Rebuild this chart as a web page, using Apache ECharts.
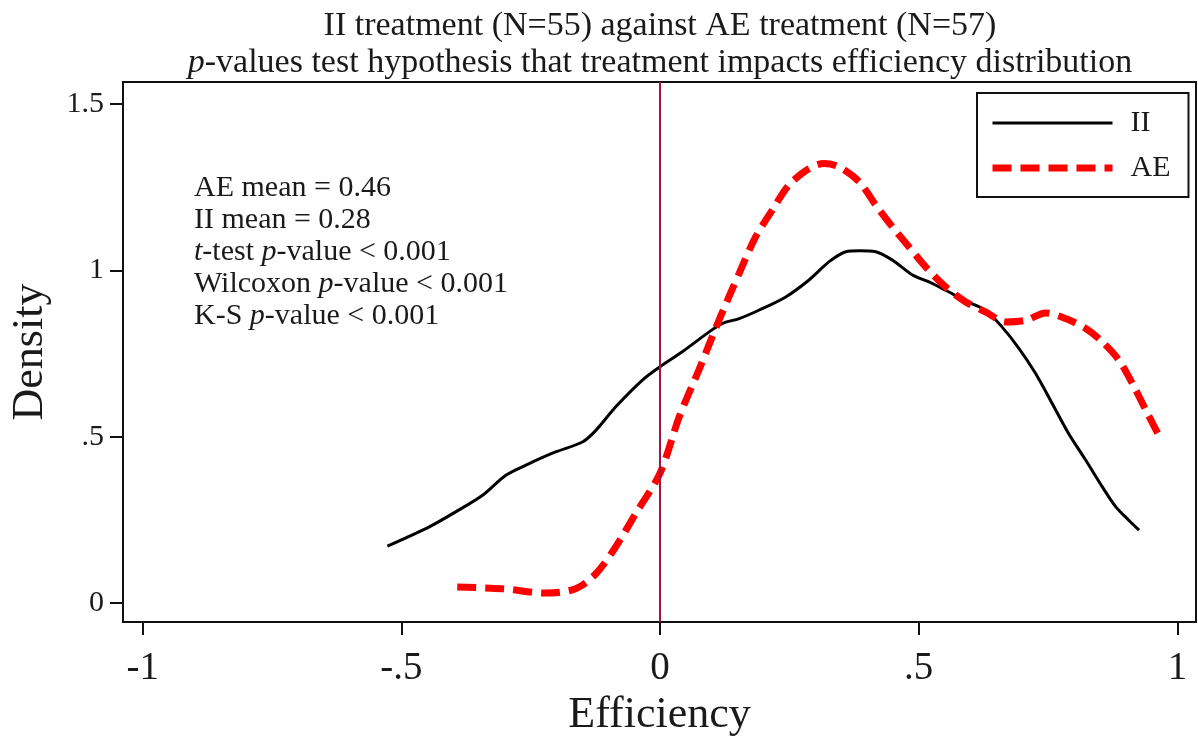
<!DOCTYPE html>
<html>
<head>
<meta charset="utf-8">
<script src="https://cdn.jsdelivr.net/npm/echarts@6/dist/echarts.min.js"></script>
<style>
  html, body { margin: 0; padding: 0; background: #fff; }
  #chart { width: 1198px; height: 736px; }
</style>
</head>
<body>
<div id="chart"></div>
<script>
// Kernel density estimates of efficiency by treatment
const iiEff = [-0.527, -0.446, -0.395, -0.343, -0.298, -0.253, -0.202, -0.150, -0.124, -0.086,
  -0.034, 0.000, 0.043, 0.095, 0.120, 0.153, 0.191, 0.243, 0.288, 0.327, 0.359, 0.385, 0.417,
  0.449, 0.488, 0.520, 0.552, 0.591, 0.629, 0.661, 0.694, 0.726, 0.758, 0.790, 0.823, 0.855,
  0.881, 0.906, 0.926];
const iiDensity = [0.171, 0.229, 0.274, 0.324, 0.384, 0.419, 0.454, 0.484, 0.519, 0.589,
  0.670, 0.710, 0.755, 0.815, 0.840, 0.855, 0.880, 0.920, 0.971, 1.026, 1.056, 1.059, 1.056,
  1.031, 0.986, 0.965, 0.940, 0.908, 0.880, 0.830, 0.765, 0.690, 0.600, 0.509, 0.429, 0.349,
  0.289, 0.249, 0.219];

const aeEff = [-0.392, -0.305, -0.221, -0.163, -0.124, -0.086, -0.047, 0.000, 0.037, 0.075,
  0.114, 0.153, 0.185, 0.217, 0.249, 0.288, 0.317, 0.346, 0.385, 0.417, 0.449, 0.481, 0.513,
  0.552, 0.591, 0.629, 0.668, 0.707, 0.745, 0.784, 0.823, 0.855, 0.887, 0.913, 0.939, 0.964];
const aeDensity = [0.048, 0.043, 0.030, 0.043, 0.088, 0.168, 0.269, 0.390, 0.559, 0.700,
  0.850, 0.991, 1.101, 1.181, 1.256, 1.306, 1.321, 1.311, 1.266, 1.196, 1.131, 1.071, 1.011,
  0.950, 0.905, 0.875, 0.845, 0.850, 0.872, 0.855, 0.825, 0.785, 0.730, 0.660, 0.580, 0.504];

const xTicks = [-1, -0.5, 0, 0.5, 1];
const xTickLabels = ['-1', '-.5', '0', '.5', '1'];
const yTicks = [0, 0.5, 1, 1.5];
const yTickLabels = ['0', '.5', '1', '1.5'];

const statLines = [
  'AE mean = 0.46',
  'II mean = 0.28',
  '{i|t}-test {i|p}-value < 0.001',
  'Wilcoxon {i|p}-value < 0.001',
  'K-S {i|p}-value < 0.001'
];

const FONT = '"Liberation Serif", "DejaVu Serif", serif';
const INK = '#1a1a1a';

const II_LINE = { color: '#000000', width: 3, type: 'solid' };
const AE_LINE = { color: '#ff0000', width: 7, type: [19, 9] };

function pairs(xs, ys) { return xs.map((x, i) => [x, ys[i]]); }
function tickLabel(values, labels) {
  return function (v) {
    const i = values.findIndex(t => Math.abs(t - v) < 1e-9);
    return i >= 0 ? labels[i] : '';
  };
}

const chart = echarts.init(document.getElementById('chart'), null, { renderer: 'canvas' });

chart.setOption({
  backgroundColor: '#ffffff',
  animation: false,
  title: {
    text: 'II treatment (N=55) against AE treatment (N=57)\n{i|p}-values test hypothesis that treatment impacts efficiency distribution',
    left: 660,
    top: 8,
    padding: 0,
    textAlign: 'center',
    textStyle: {
      fontFamily: FONT, fontSize: 34, fontWeight: 'normal', color: INK, lineHeight: 37,
      rich: { i: { fontFamily: FONT, fontSize: 34, fontStyle: 'italic', color: INK, lineHeight: 37 } }
    }
  },
  legend: {
    orient: 'vertical',
    left: 977,
    top: 93,
    padding: [15, 18, 14, 12],
    itemWidth: 120,
    itemHeight: 30,
    itemGap: 15,
    borderColor: '#111',
    borderWidth: 2,
    backgroundColor: '#fff',
    itemStyle: { opacity: 0 },
    textStyle: { fontFamily: FONT, fontSize: 30, color: INK, lineHeight: 30, padding: [0, 0, 0, 13] },
    data: [
      { name: 'II', itemStyle: { opacity: 0 }, lineStyle: II_LINE },
      { name: 'AE', itemStyle: { opacity: 0 }, lineStyle: AE_LINE }
    ]
  },
  grid: {
    left: 123, right: 2, top: 82, bottom: 114,
    outerBoundsMode: 'none',
    containLabel: false,
    show: true, borderColor: '#111', borderWidth: 2, backgroundColor: 'transparent'
  },
  xAxis: {
    type: 'value',
    min: -1.038, max: 1.036,
    name: 'Efficiency',
    nameLocation: 'middle',
    nameGap: 71,
    nameTextStyle: { fontFamily: FONT, fontSize: 44, color: INK },
    splitLine: { show: false },
    axisLine: { show: true, onZero: false, lineStyle: { color: '#111', width: 2 } },
    axisTick: { show: true, length: 13, customValues: xTicks, lineStyle: { color: '#111', width: 2 } },
    axisLabel: {
      customValues: xTicks, formatter: tickLabel(xTicks, xTickLabels),
      fontFamily: FONT, fontSize: 39, color: INK, margin: 27
    }
  },
  yAxis: {
    type: 'value',
    min: -0.057, max: 1.566,
    name: 'Density',
    nameLocation: 'middle',
    nameGap: 71,
    nameTextStyle: { fontFamily: FONT, fontSize: 44, color: INK },
    splitLine: { show: false },
    axisLine: { show: true, onZero: false, lineStyle: { color: '#111', width: 2 } },
    axisTick: { show: true, length: 13, customValues: yTicks, lineStyle: { color: '#111', width: 2 } },
    axisLabel: {
      customValues: yTicks, formatter: tickLabel(yTicks, yTickLabels),
      fontFamily: FONT, fontSize: 30, color: INK, margin: 19
    }
  },
  series: [
    {
      name: 'II',
      type: 'line',
      data: pairs(iiEff, iiDensity),
      smooth: 0.3,
      symbol: 'none',
      lineStyle: II_LINE,
      itemStyle: { color: '#000000' },
      markLine: {
        silent: true,
        symbol: 'none',
        label: { show: false },
        lineStyle: { color: '#a8123e', width: 2, type: 'solid' },
        data: [{ xAxis: 0 }]
      },
      z: 3
    },
    {
      name: 'AE',
      type: 'line',
      data: pairs(aeEff, aeDensity),
      smooth: 0.3,
      symbol: 'none',
      lineStyle: AE_LINE,
      itemStyle: { color: '#ff0000' },
      z: 4
    }
  ],
  graphic: [
    {
      type: 'text',
      left: 194,
      top: 172,
      style: {
        text: statLines.join('\n'),
        fontFamily: FONT,
        fontSize: 30,
        lineHeight: 32,
        fill: INK,
        rich: { i: { fontFamily: FONT, fontSize: 30, fontStyle: 'italic', lineHeight: 32, fill: INK } }
      }
    }
  ]
});
</script>
</body>
</html>
